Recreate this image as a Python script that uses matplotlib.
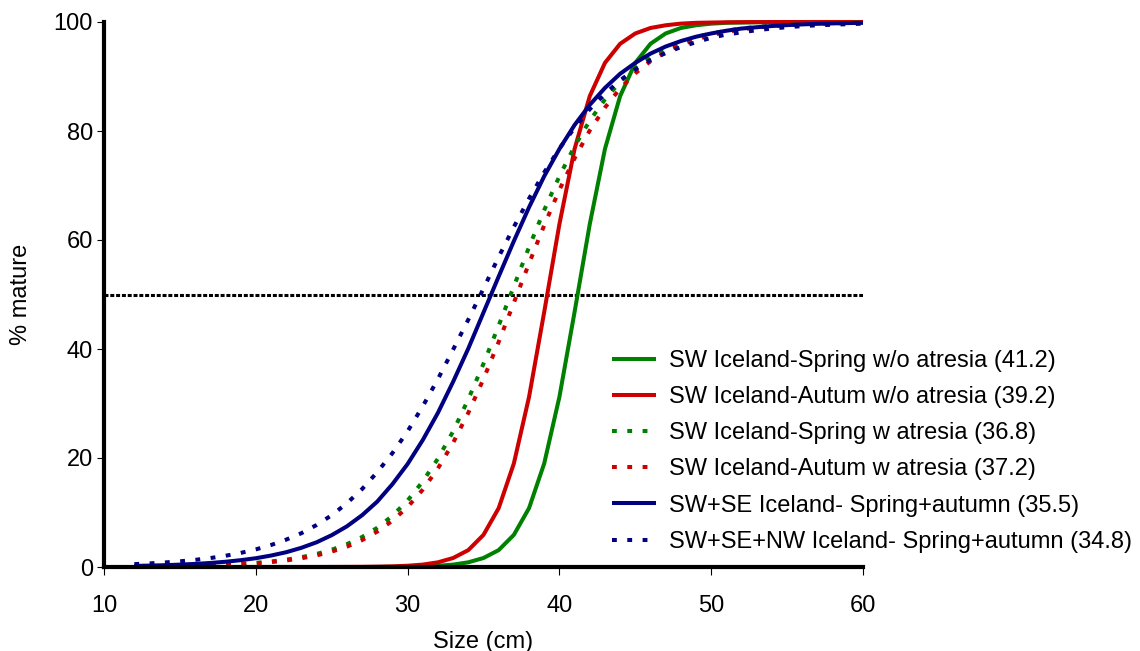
import matplotlib
matplotlib.use("Agg")
import matplotlib.pyplot as plt

plt.rcParams['font.family'] = ['Liberation Sans', 'DejaVu Sans']

# size classes (cm)
size_cm = list(range(12, 61))

# % mature, x = 12..60
green_solid = [0, 0, 0, 0, 0, 0, 0, 0, 0, 0,
               0, 0, 0, 0, 0, 0,
               0.01, 0.02, 0.06, 0.12, 0.23, 0.44, 0.86, 1.65, 3.1, 5.9,
               10.8, 19.0, 31.2, 46.8, 62.9, 76.7, 86.4, 92.5, 96.0, 97.9,
               98.9, 99.4, 99.7, 99.85, 99.9, 99.95, 99.97, 99.98, 99.99, 100,
               100, 100, 100]
red_solid = [0, 0, 0, 0, 0, 0, 0, 0, 0, 0,
             0, 0, 0, 0.01, 0.02, 0.03,
             0.06, 0.12, 0.23, 0.44, 0.86, 1.65, 3.1, 5.9, 10.8, 19.0,
             31.2, 46.8, 62.9, 76.7, 86.4, 92.5, 96.0, 97.9, 98.9, 99.4,
             99.7, 99.85, 99.9, 99.95, 99.97, 99.98, 99.99, 100, 100, 100,
             100, 100, 100]
green_dot = [0.075, 0.10, 0.13, 0.18, 0.24, 0.32, 0.43, 0.57, 0.76, 1.01,
             1.35, 1.80, 2.39, 3.17, 4.19, 5.5, 7.2, 9.4, 12.2, 15.7,
             19.9, 24.9, 30.8, 37.3, 44.3, 51.5, 58.7, 65.5, 71.7, 77.2,
             81.9, 85.8, 89.0, 91.5, 93.5, 95.1, 96.3, 97.2, 97.9, 98.4,
             98.8, 99.1, 99.3, 99.5, 99.6, 99.7, 99.8, 99.85, 99.9]
red_dot = [0.067, 0.089, 0.12, 0.16, 0.21, 0.28, 0.38, 0.51, 0.68, 0.90,
           1.20, 1.60, 2.13, 2.82, 3.73, 4.93, 6.5, 8.5, 11.0, 14.2,
           18.1, 22.8, 28.3, 34.5, 41.3, 48.5, 55.7, 62.7, 69.2, 75.0,
           80.1, 84.3, 87.8, 90.6, 92.8, 94.5, 95.8, 96.8, 97.6, 98.2,
           98.65, 99.0, 99.2, 99.4, 99.6, 99.7, 99.76, 99.8, 99.85]
blue_solid = [0.20, 0.26, 0.33, 0.44, 0.57, 0.74, 0.96, 1.25, 1.61, 2.10,
              2.71, 3.52, 4.53, 5.84, 7.46, 9.5, 12.0, 15.2, 18.9, 23.3,
              28.3, 34.0, 40.1, 46.7, 53.3, 59.8, 66.0, 71.7, 76.7, 81.1,
              84.8, 87.9, 90.5, 92.5, 94.2, 95.5, 96.5, 97.3, 97.9, 98.4,
              98.8, 99.04, 99.26, 99.43, 99.56, 99.67, 99.74, 99.80, 99.85]
blue_dot = [0.53, 0.66, 0.83, 1.04, 1.31, 1.64, 2.06, 2.58, 3.23, 4.03,
            5.02, 6.2, 7.7, 9.5, 11.7, 14.3, 17.4, 20.9, 24.9, 29.5,
            34.5, 39.9, 45.4, 51.1, 56.9, 62.4, 67.6, 72.4, 76.8, 80.6,
            84.0, 86.8, 89.3, 91.3, 93.0, 94.3, 95.4, 96.3, 97.1, 97.7,
            98.1, 98.5, 98.8, 99.05, 99.25, 99.4, 99.5, 99.6, 99.7]

labels = ["SW Iceland-Spring w/o atresia (41.2)",
          "SW Iceland-Autum w/o atresia (39.2)",
          "SW Iceland-Spring w atresia (36.8)",
          "SW Iceland-Autum w atresia (37.2)",
          "SW+SE Iceland- Spring+autumn (35.5)",
          "SW+SE+NW Iceland- Spring+autumn (34.8)"]

GREEN = '#008000'
RED = '#CC0000'
NAVY = '#000080'
dots = (0, (1.2, 2.6))

fig = plt.figure(figsize=(11.4, 6.51), dpi=100)
ax = fig.add_axes([104 / 1140, 1 - 567 / 651, (863 - 104) / 1140, (567 - 22) / 651])

# 50% reference line
ax.axhline(50, color='black', lw=2.2, linestyle=(0, (1.3, 0.6)), zorder=1)

series = [(green_solid, GREEN, '-'), (red_solid, RED, '-'),
          (green_dot, GREEN, dots), (red_dot, RED, dots),
          (blue_solid, NAVY, '-'), (blue_dot, NAVY, dots)]
for (vals, col, ls), lab in zip(series, labels):
    ax.plot(size_cm, vals, color=col, linestyle=ls, lw=2.9,
            solid_capstyle='butt', dash_capstyle='butt', label=lab, clip_on=False)

ax.set_xlim(10, 60)
ax.set_ylim(0, 100)
ax.set_xticks([10, 20, 30, 40, 50, 60])
ax.set_yticks([0, 20, 40, 60, 80, 100])

for s in ['top', 'right']:
    ax.spines[s].set_visible(False)
for s in ['left', 'bottom']:
    ax.spines[s].set_linewidth(3)
    ax.spines[s].set_zorder(5)

ax.tick_params(axis='y', direction='out', length=5, width=0.8, labelsize=17, pad=3)
ax.tick_params(axis='x', direction='out', length=6, width=0.8, labelsize=17, pad=14)

ax.set_xlabel("Size (cm)", fontsize=17, labelpad=10)
ax.set_ylabel("% mature", fontsize=17)
ax.yaxis.set_label_coords(-0.095, 0.5)

ax.legend(loc='upper left', bbox_to_anchor=(612 / 1140, 1 - 350 / 651),
          bbox_transform=fig.transFigure, frameon=False, fontsize=17,
          handlelength=1.85, handletextpad=0.55, labelspacing=0.6,
          borderpad=0, borderaxespad=0)

fig.savefig("out.png", dpi=100)
